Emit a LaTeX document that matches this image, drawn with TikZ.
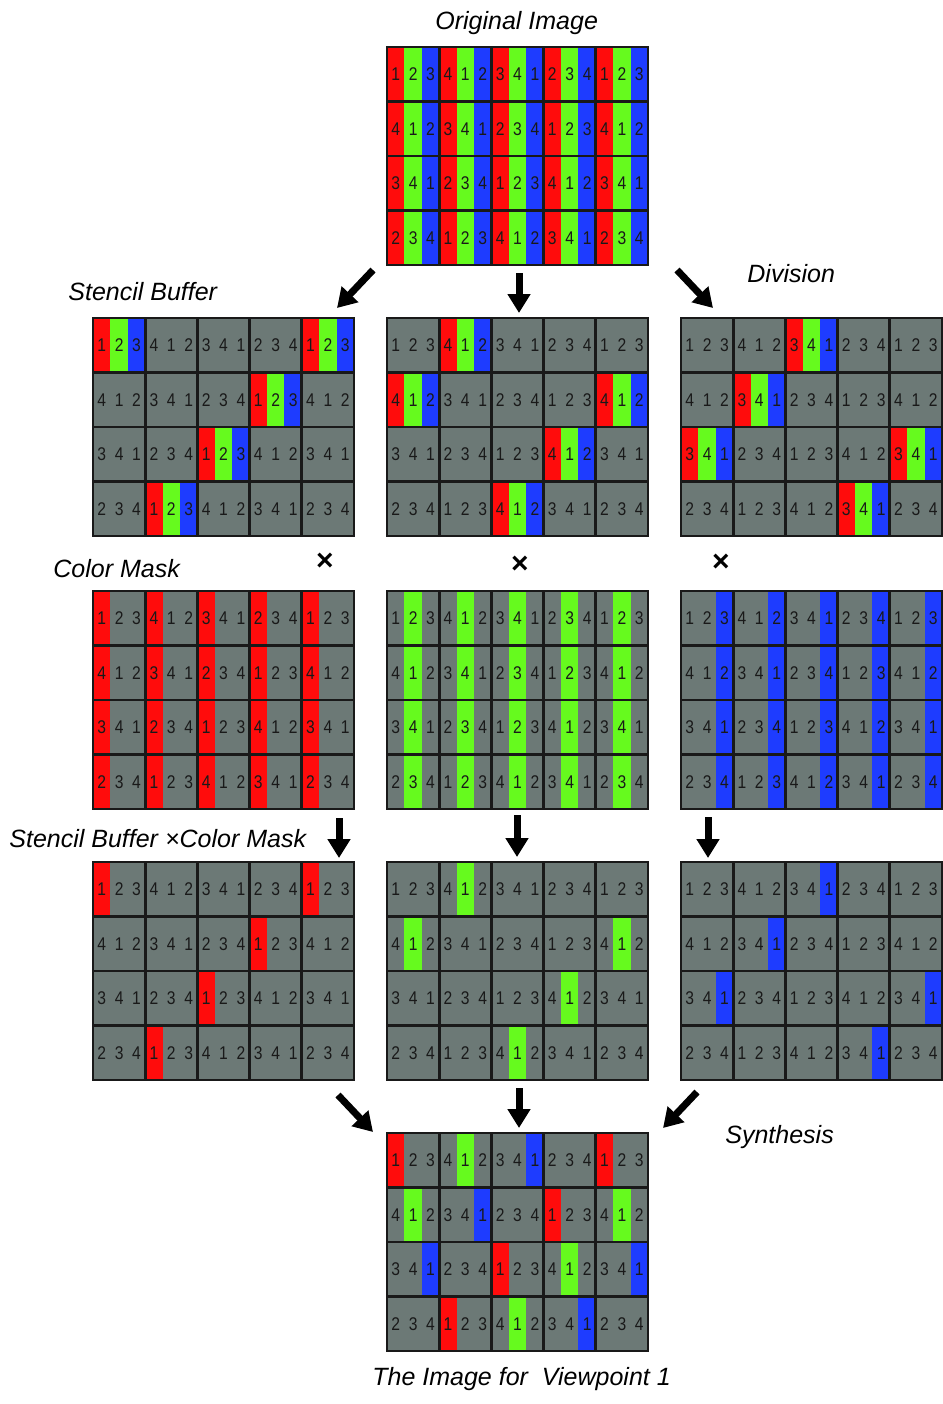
\documentclass[tikz,border=0pt]{standalone}
\usepackage{fontspec}
\setmainfont{Liberation Sans}
\newfontfamily\digfont[FakeStretch=0.85]{Liberation Sans}
\usetikzlibrary{arrows.meta}
\definecolor{gr}{RGB}{108,121,118}
\definecolor{c0}{RGB}{255,12,12}
\definecolor{c1}{RGB}{102,250,30}
\definecolor{c2}{RGB}{30,60,255}
\tikzset{
 lbl/.style={font=\fontsize{12.5}{15}\selectfont\itshape, anchor=base west, inner sep=0pt},
 dig/.style={font=\digfont\fontsize{9.2}{10}\selectfont, inner sep=0pt, text=black!90},
 gridline/.style={line width=1.4pt, black!90},
 arr/.style={line width=3.5pt, -{Triangle[length=9.5pt,width=11pt]}},
 timesmark/.style={font=\fontsize{15}{15}\selectfont\bfseries, inner sep=0pt},
}
% #1 name, #2 x, #3 y, #4 mode (0 orig,1 stencil,2 mask,3 product,4 final), #5 colour index
\newcommand\subgrid[5]{%
 \begin{scope}[shift={(#2,#3)}]
  \foreach \rr in {0,...,3}{
   \foreach \cc in {0,...,14}{
    \pgfmathtruncatemacro\n{mod(\cc-\rr+4,4)+1}
    \pgfmathtruncatemacro\col{mod(\cc,3)}
    \pgfmathtruncatemacro\cell{floor(\cc/3)}
    \pgfmathtruncatemacro\nk{mod(3*\cell+#5-\rr+4,4)+1}
    \pgfmathtruncatemacro\flag{(#4==0) || ((#4==1) && (\nk==1)) || ((#4==2) && (\col==#5)) || ((#4==3) && (\col==#5) && (\n==1)) || ((#4==4) && (\n==1))}
    \ifnum\flag=1 \def\fc{c\col}\else\def\fc{gr}\fi
    \fill[\fc] ({\cc*17.4},{\rr*54.5}) rectangle ++(17.4,54.5);
    \node[dig] (#1-\rr-\cc) at ({\cc*17.4+8.7},{\rr*54.5+27.25}) {\n};
   }}
  \foreach \i in {1,...,4} \draw[gridline] ({\i*52.2},0) -- ++(0,218);
  \foreach \i in {1,2,3} \draw[gridline] (0,{\i*54.5}) -- ++(261,0);
  \draw[gridline] (0,0) rectangle (261,218);
  \coordinate (#1) at (130.5,109);
 \end{scope}}
\begin{document}
\begin{tikzpicture}[x=0.5pt,y=-0.5pt]
\fill[white] (0,0) rectangle (943,1404);
\useasboundingbox (0,0) rectangle (943,1404);

\subgrid{orig}{387}{47}{0}{0}
\subgrid{stA}{93}{318}{1}{0}
\subgrid{stB}{387}{318}{1}{1}
\subgrid{stC}{681}{318}{1}{2}
\subgrid{mkA}{93}{591}{2}{0}
\subgrid{mkB}{387}{591}{2}{1}
\subgrid{mkC}{681}{591}{2}{2}
\subgrid{prA}{93}{862}{3}{0}
\subgrid{prB}{387}{862}{3}{1}
\subgrid{prC}{681}{862}{3}{2}
\subgrid{fin}{387}{1133}{4}{0}

\node[lbl] (tOrig) at (435,29) {Original Image};
\node[lbl] (tSten) at (68,300) {Stencil Buffer};
\node[lbl] (tDiv) at (747,282) {Division};
\node[lbl] (tMask) at (53,577) {Color Mask};
\node[lbl] (tProd) at (9,847) {Stencil Buffer ×Color Mask};
\node[lbl] (tSyn) at (725,1143) {Synthesis};
\node[lbl] (tFin) at (372,1385) {The Image for\ \ Viewpoint 1};

\node[timesmark] (x1) at (325,562) {×};
\node[timesmark] (x2) at (520,565) {×};
\node[timesmark] (x3) at (721,563) {×};

\coordinate (a1s) at (373,270); \coordinate (a1e) at (337,308);
\coordinate (a2s) at (519,273); \coordinate (a2e) at (519,313);
\coordinate (a3s) at (677,270); \coordinate (a3e) at (713,308);
\coordinate (b1s) at (339,818); \coordinate (b1e) at (339,858);
\coordinate (b2s) at (517,815); \coordinate (b2e) at (517,857);
\coordinate (b3s) at (708,817); \coordinate (b3e) at (708,858);
\coordinate (c1s) at (338,1095); \coordinate (c1e) at (373,1132);
\coordinate (c2s) at (519,1088); \coordinate (c2e) at (519,1128);
\coordinate (c3s) at (697,1092); \coordinate (c3e) at (663,1128);
\foreach \p in {a1,a2,a3,b1,b2,b3,c1,c2,c3} \draw[arr] (\p s) -- (\p e);
\end{tikzpicture}
\end{document}
